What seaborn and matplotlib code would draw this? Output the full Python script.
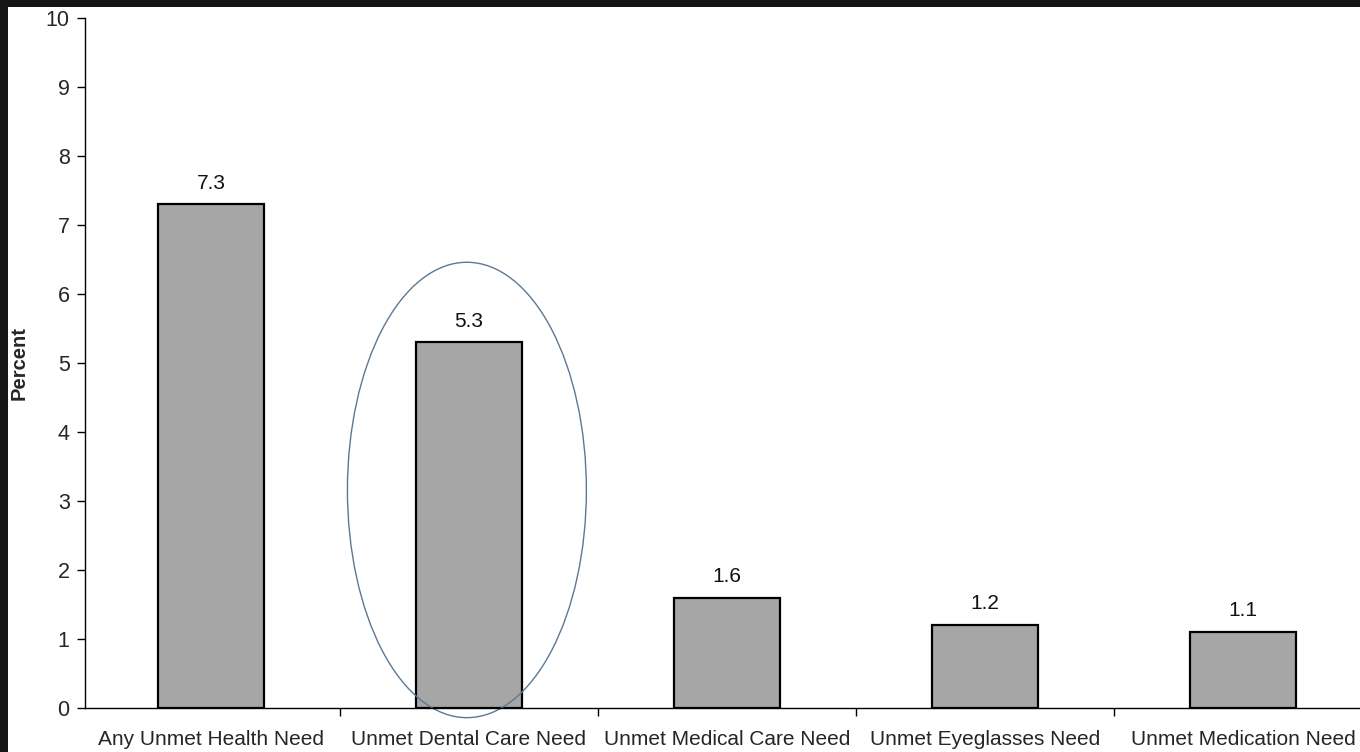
import matplotlib
matplotlib.use("Agg")
import matplotlib.pyplot as plt
from matplotlib.patches import Ellipse, Rectangle
import seaborn as sns
import pandas as pd

categories = [
    "Any Unmet Health Need",
    "Unmet Dental Care Need",
    "Unmet Medical Care Need",
    "Unmet Eyeglasses Need",
    "Unmet Medication Need",
]
percent = [7.3, 5.3, 1.6, 1.2, 1.1]
value_labels = ["7.3", "5.3", "1.6", "1.2", "1.1"]

df = pd.DataFrame({"need": categories, "percent": percent})

sns.set_theme(style="white")
plt.rcParams["font.family"] = ["Liberation Sans", "DejaVu Sans"]

W, H = 1360, 752
fig = plt.figure(figsize=(13.6, 7.52), dpi=100, facecolor="white")
# dark frame along the top and left edges
frame = "#151515"
fig.patches.append(Rectangle((0, 1 - 7 / H), 1, 7 / H, transform=fig.transFigure,
                             facecolor=frame, edgecolor="none"))
fig.patches.append(Rectangle((0, 0), 8 / W, 1, transform=fig.transFigure,
                             facecolor=frame, edgecolor="none"))

ax = fig.add_axes([85 / W, (H - 708) / H, (1360 - 85) / W, (708 - 18) / H])
ax.set_facecolor("none")

sns.barplot(data=df, x="need", y="percent", ax=ax, color="#a6a6a6",
            width=0.41, edgecolor="black", linewidth=1.6, saturation=1)

for i, (v, lab) in enumerate(zip(percent, value_labels)):
    ax.text(i, v + 0.17, lab, ha="center", va="bottom", fontsize=15, color="#111111")

ax.add_patch(Ellipse((0.992, 3.16), 0.926, 6.6, fill=False, edgecolor="#5d7894",
                     linewidth=1.0, clip_on=False))

ax.set_xlim(-0.488, 4.453)
ax.set_ylim(0, 10)
ax.set_yticks(range(0, 11))
ax.set_xlabel("")
ax.set_ylabel("Percent", fontsize=14.5, fontweight="bold")
ax.yaxis.set_label_coords(-0.044, 0.5)

ax.set_xticks([0.5, 1.5, 2.5, 3.5], minor=True)
ax.tick_params(axis="x", which="major", length=0, pad=16, labelsize=15)
ax.tick_params(axis="x", which="minor", length=6, width=1, direction="out", color="black", bottom=True)
ax.tick_params(axis="y", which="major", length=6, width=1, direction="out", color="black",
               left=True, pad=5, labelsize=15.5)

for s in ["top", "right"]:
    ax.spines[s].set_visible(False)
for s in ["left", "bottom"]:
    ax.spines[s].set_color("black")
    ax.spines[s].set_linewidth(1.0)

fig.savefig("out.png", dpi=100, facecolor=fig.get_facecolor())
